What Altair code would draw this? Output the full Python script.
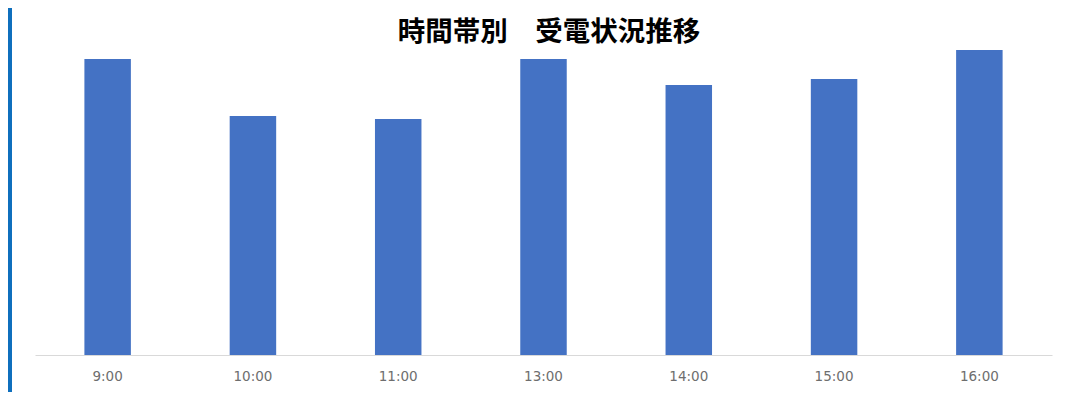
import altair as alt
import pandas as pd

title_text = "時間帯別　受電状況推移"
times = ["9:00", "10:00", "11:00", "13:00", "14:00", "15:00", "16:00"]
counts = [296, 239, 236, 296, 270, 276, 305]

df = pd.DataFrame({"time": times, "count": counts})

bars = alt.Chart(df).mark_bar(color="#4472C4").encode(
    x=alt.X("time:N", sort=times,
            scale=alt.Scale(range=[23, 1040], paddingInner=0.68, paddingOuter=0.34),
            axis=alt.Axis(title=None, labelAngle=0, ticks=False, domainColor="#d9d9d9",
                          domainWidth=1, labelColor="#6e6e6e", labelFontSize=13.5,
                          labelFont="DejaVu Sans", labelPadding=14, offset=-37, grid=False)),
    y=alt.Y("count:Q", scale=alt.Scale(domain=[0, 320], range=[347, 27]), axis=None),
)

title = alt.Chart(pd.DataFrame({"t": [title_text]})).mark_text(
    font="Noto Sans CJK JP", fontSize=27.5, fontWeight="bold", color="#000000",
    align="center", baseline="middle",
).encode(text="t:N", x=alt.value(537), y=alt.value(25))

chart = alt.layer(bars, title).properties(
    width=1049,
    height=384,
    padding={"left": 4, "top": 0, "right": 0, "bottom": 0},
    autosize=alt.AutoSizeParams(type="none"),
    background="#0f6fbd",
).configure_view(fill="white", stroke="transparent", strokeWidth=0)

chart.save("out.html", embed_options={"renderer": "svg", "actions": False})
